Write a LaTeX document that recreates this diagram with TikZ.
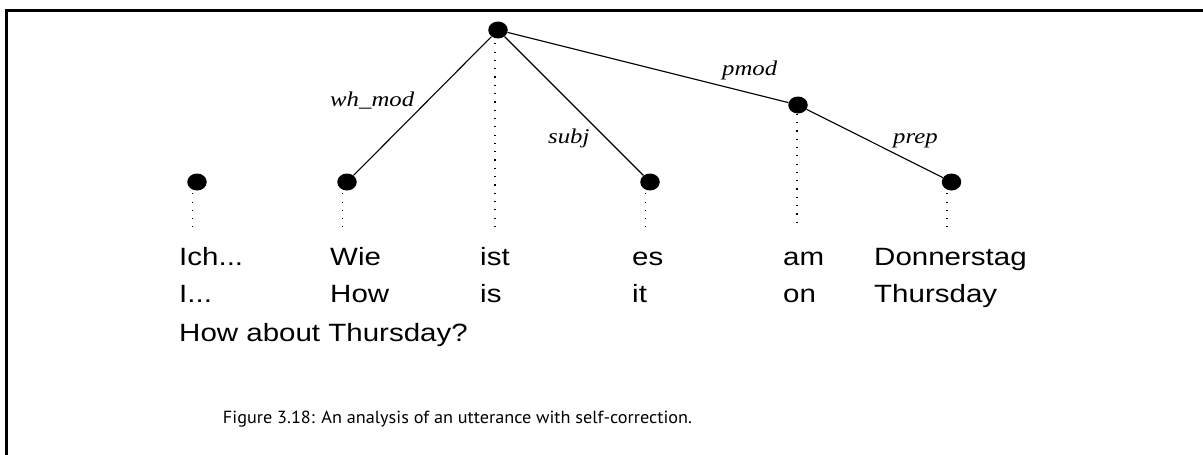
\documentclass[tikz,border=0pt]{standalone}
\usepackage{fontspec}
\usetikzlibrary{shapes.geometric}
\newfontfamily\wordfont[FakeStretch=1.18]{Liberation Sans}
\newfontfamily\relfont[FakeStretch=1.18]{Liberation Serif}
\newfontfamily\capfont{PT Sans}

\begin{document}
\begin{tikzpicture}[x=1pt, y=-1pt,
	dot/.style = {ellipse, fill, inner sep=0pt, minimum width=19.5pt, minimum height=17pt},
	dep/.style = {line width=1.1pt},
	proj/.style = {line width=1.1pt, dash pattern=on 1.2pt off 7.1pt},
	word/.style = {anchor=base west, inner sep=0pt, font=\wordfont\fontsize{25}{30}\selectfont},
	rel/.style = {anchor=base west, inner sep=0pt, font=\relfont\itshape\fontsize{21}{25}\selectfont},
	captext/.style = {anchor=base, inner sep=0pt, font=\capfont\fontsize{17}{20}\selectfont}]
	\useasboundingbox (0,0) rectangle (1203,455);
	\draw[line width=3pt] (6.7,455) -- (6.7,10.7) -- (1203,10.7);

	\node[dot] (root) at (498,30) {};
	\node[dot] (ich)  at (197,182) {};
	\node[dot] (wie)  at (347,182) {};
	\node[dot] (es)   at (650,182) {};
	\node[dot] (am)   at (798,105) {};
	\node[dot] (donn) at (951.5,182) {};

	\draw[dep] (root) -- (wie);
	\draw[dep] (root) -- (es);
	\draw[dep] (root) -- (am);
	\draw[dep] (am) -- (donn);

	\node[rel] (l-wh)   at (330,106) {wh\_mod};
	\node[rel] (l-subj) at (548,143) {subj};
	\node[rel] (l-pmod) at (722,75)  {pmod};
	\node[rel] (l-prep) at (893,143) {prep};

	\coordinate (lvl) at (0,227);
	\foreach \n in {ich,wie,es,donn}{
		\draw[proj] ([shift={(-4.5pt,-2.5pt)}]\n.south) -- ([xshift=-4.5pt]\n.south |- lvl);}
	\draw[proj] ([shift={(-3pt,-4.5pt)}]root.south) -- ([xshift=-3pt]root.south |- lvl);
	\draw[proj] ([xshift=-1pt]am.south) -- ([shift={(-1pt,-108pt)}]am.south);

	\node[word] (w-ich)  at (179,265) {Ich...};
	\node[word] (w-wie)  at (330,265) {Wie};
	\node[word] (w-ist)  at (480,265) {ist};
	\node[word] (w-es)   at (632,265) {es};
	\node[word] (w-am)   at (783,265) {am};
	\node[word] (w-donn) at (874,265) {Donnerstag};

	\node[word] (g-ich)  at (179,302.5) {I...};
	\node[word] (g-wie)  at (330,302.5) {How};
	\node[word] (g-ist)  at (480,302.5) {is};
	\node[word] (g-es)   at (632,302.5) {it};
	\node[word] (g-am)   at (783,302.5) {on};
	\node[word] (g-donn) at (874,302.5) {Thursday};

	\node[word] (gloss) at (179,341) {How about Thursday?};

	\node[captext] (caption) at (457.5,423)
		{\resizebox{469pt}{12.5pt}{Figure 3.18: An analysis of an utterance with self-correction.}};
\end{tikzpicture}
\end{document}
